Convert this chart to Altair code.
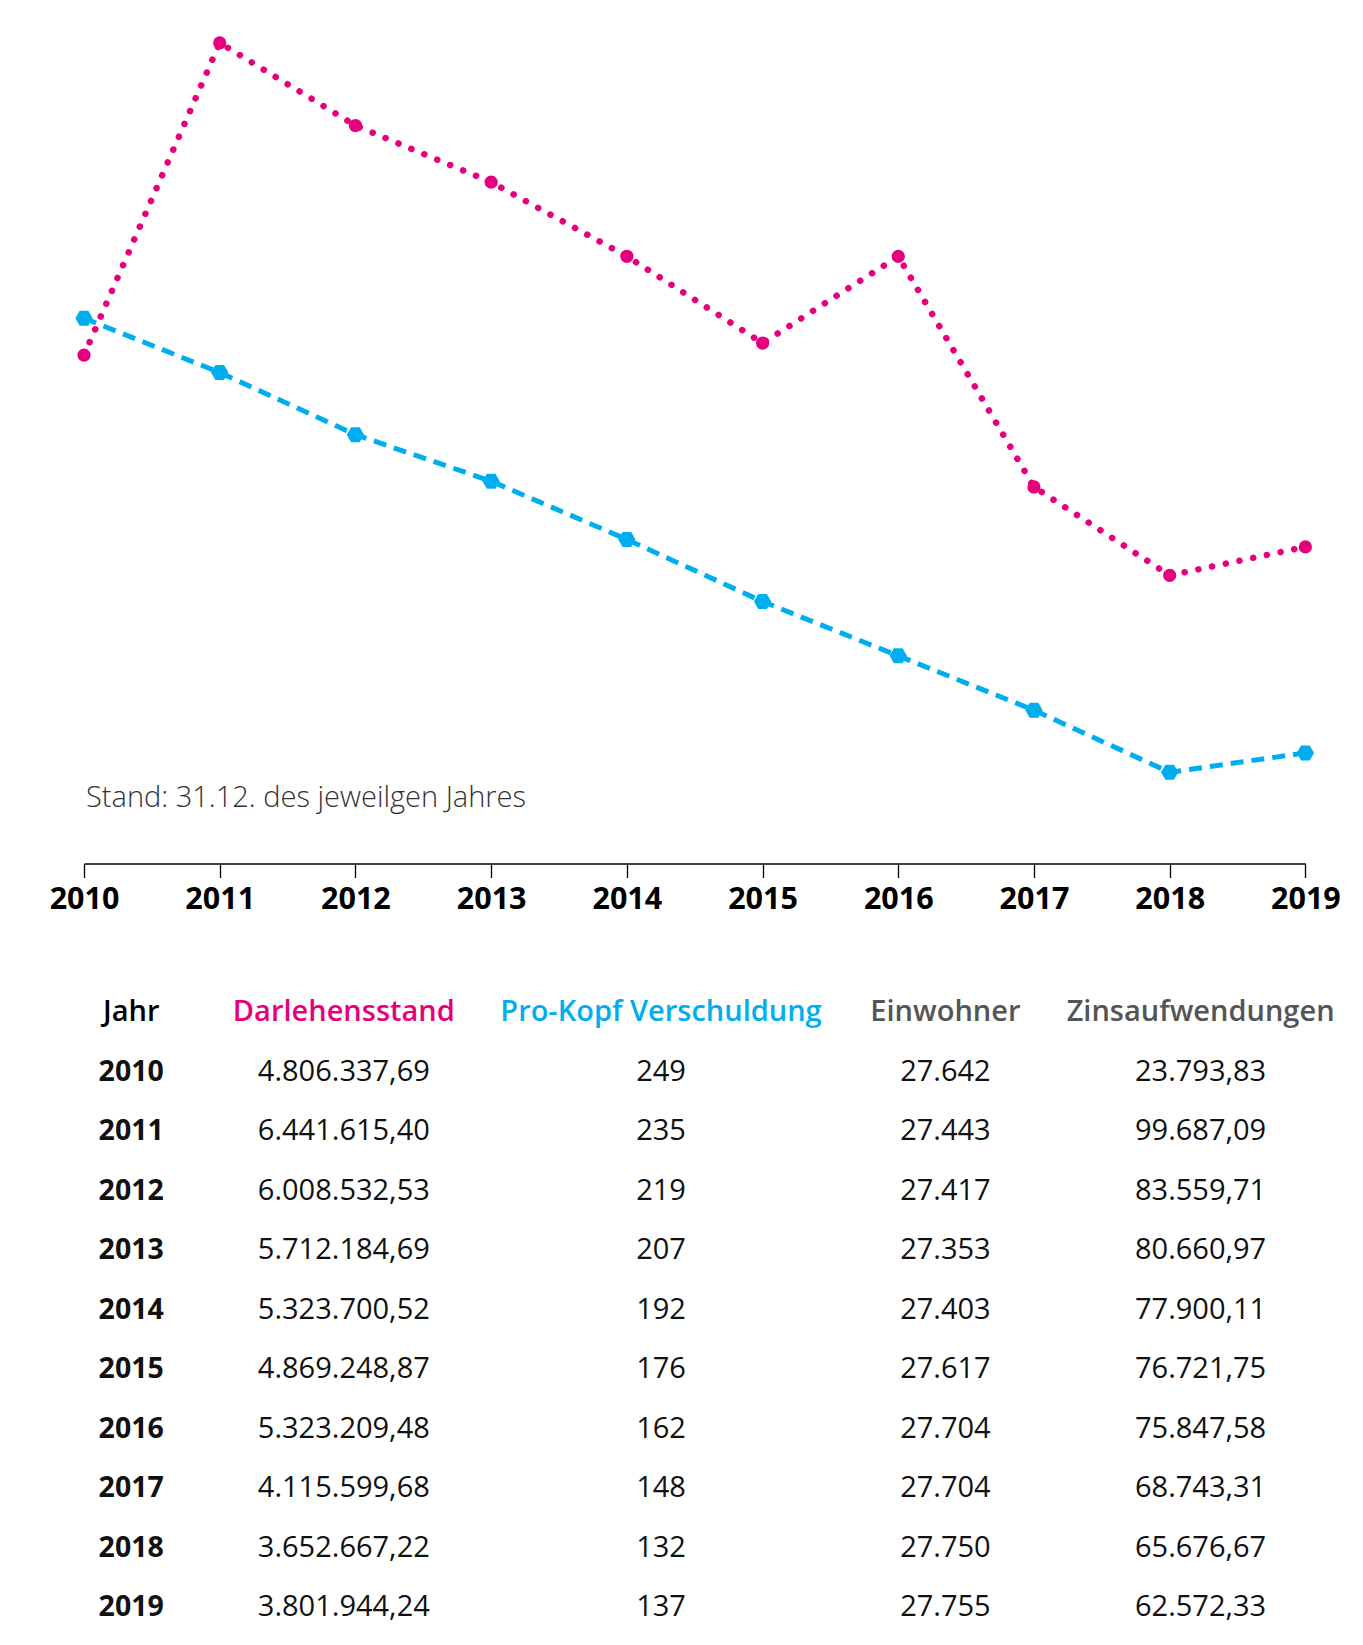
import altair as alt
import pandas as pd

# ---------------- data ----------------
years = [2010, 2011, 2012, 2013, 2014, 2015, 2016, 2017, 2018, 2019]
darlehensstand = [4806337.69, 6441615.40, 6008532.53, 5712184.69, 5323700.52,
                  4869248.87, 5323209.48, 4115599.68, 3652667.22, 3801944.24]
pro_kopf = [249, 235, 219, 207, 192, 176, 162, 148, 132, 137]
einwohner = [27642, 27443, 27417, 27353, 27403, 27617, 27704, 27704, 27750, 27755]
zinsaufwendungen = [23793.83, 99687.09, 83559.71, 80660.97, 77900.11,
                    76721.75, 75847.58, 68743.31, 65676.67, 62572.33]
headers = ["Jahr", "Darlehensstand", "Pro-Kopf Verschuldung", "Einwohner", "Zinsaufwendungen"]
note = "Stand: 31.12. des jeweilgen Jahres"

PINK = "#E6007E"
BLUE = "#00AEEF"
GREY = "#555555"
FONT = "Open Sans"


def de_num(v, decimals):
    s = f"{v:,.{decimals}f}"
    return s.replace(",", "X").replace(".", ",").replace("X", ".")


# ---------------- line chart ----------------
df = pd.DataFrame({"year": years, "darlehen": darlehensstand, "prokopf": pro_kopf})

x_enc = alt.X(
    "year:Q",
    scale=alt.Scale(domain=[2010, 2019], nice=False, zero=False),
    axis=alt.Axis(values=years, format="d", title=None, grid=False,
                  labelFlush=False, labelOverlap=False,
                  domainColor="#000000", domainWidth=1.3,
                  tickColor="#000000", tickWidth=1.3, tickSize=14,
                  labelFont=FONT, labelFontSize=30.5, labelFontWeight="bold",
                  labelColor="#000000", labelPadding=7),
)

y_pink = alt.Y("darlehen:Q", scale=alt.Scale(domain=[2143800, 6503600], nice=False, zero=False), axis=None)
y_blue = alt.Y("prokopf:Q", scale=alt.Scale(domain=[108.5, 323.0], nice=False, zero=False), axis=None)

hexagon = "M-1,0L-0.5,-0.866L0.5,-0.866L1,0L0.5,0.866L-0.5,0.866Z"

base = alt.Chart(df)
blue_line = base.mark_line(color=BLUE, strokeWidth=5, strokeDash=[13, 8]).encode(x=x_enc, y=y_blue)
blue_pts = base.mark_point(shape=hexagon, filled=True, color=BLUE, size=300, opacity=1).encode(x=x_enc, y=y_blue)
blue = alt.layer(blue_line, blue_pts)

pink_line = base.mark_line(color=PINK, strokeWidth=6.5, strokeDash=[0.1, 13.9], strokeCap="round").encode(x=x_enc, y=y_pink)
pink_pts = base.mark_circle(color=PINK, size=175, opacity=1).encode(x=x_enc, y=y_pink)
pink = alt.layer(pink_line, pink_pts)

note_df = pd.DataFrame({"note": [note], "year": [2010]})
note_layer = alt.Chart(note_df).mark_text(
    align="left", baseline="middle", font=FONT, fontSize=29, fontWeight=300,
    color="#333333", dx=2
).encode(x=alt.X("year:Q"), y=alt.value(767), text="note:N")

top = alt.layer(blue, pink, note_layer).resolve_scale(y="independent").properties(
    width=1221.4, height=832.5
)

# ---------------- table ----------------
row_keys = ["header"] + [str(y) for y in years]
col_values = [
    [str(y) for y in years],
    [de_num(v, 2) for v in darlehensstand],
    [str(v) for v in pro_kopf],
    [de_num(v, 0) for v in einwohner],
    [de_num(v, 2) for v in zinsaufwendungen],
]
header_colors = ["#000000", PINK, BLUE, GREY, GREY]
col_widths = [94.4, 329.6, 304.0, 264.8, 245.2]
TABLE_H = 654.5

y_row = alt.Y("row:N", scale=alt.Scale(type="point", domain=row_keys, padding=0.5), axis=None)


def column_chart(i):
    hdf = pd.DataFrame({"row": ["header"], "text": [headers[i]]})
    bdf = pd.DataFrame({"row": [str(y) for y in years], "text": col_values[i]})
    head = alt.Chart(hdf).mark_text(
        font=FONT, fontSize=29, fontWeight=600, color=header_colors[i], baseline="middle"
    ).encode(y=y_row, text="text:N")
    body = alt.Chart(bdf).mark_text(
        font=FONT, fontSize=28.5 if i == 0 else 29,
        fontWeight="bold" if i == 0 else "normal",
        color="#111111", baseline="middle"
    ).encode(y=y_row, text="text:N")
    return alt.layer(head, body).properties(width=col_widths[i], height=TABLE_H)


table = alt.hconcat(*[column_chart(i) for i in range(5)], spacing=0, bounds="flush")

chart = alt.vconcat(top, table, spacing=118.25, bounds="flush").properties(
    padding={"left": 41, "top": 21, "right": 5, "bottom": 0},
    background="white",
).configure_view(strokeWidth=0, stroke="transparent")

chart.save("out.html", embed_options={"renderer": "svg", "actions": False})
